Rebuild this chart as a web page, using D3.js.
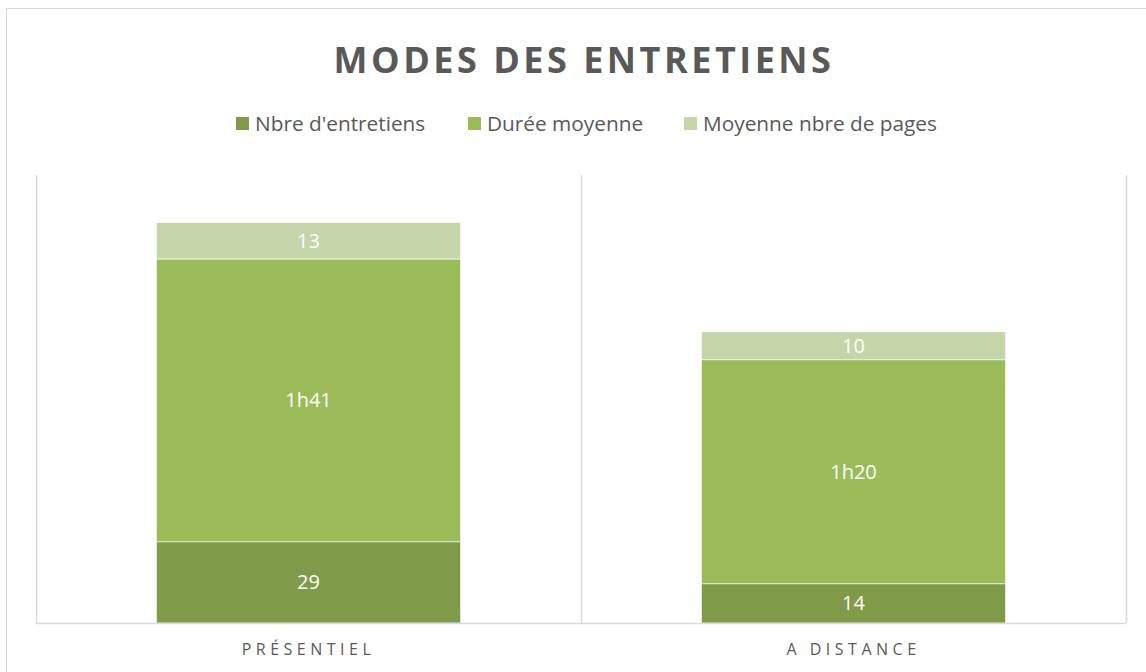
<!DOCTYPE html>
<html>
<head>
<meta charset="utf-8">
<script src="https://cdn.jsdelivr.net/npm/d3@7"></script>
<style>
  body { margin: 0; background: #fff; }
  text { font-family: "Open Sans", "DejaVu Sans", sans-serif; }
</style>
</head>
<body>
<div class="chart"></div>
<script>
var categories = ["PRÉSENTIEL", "A DISTANCE"];
var series = ["Nbre d'entretiens", "Durée moyenne", "Moyenne nbre de pages"];
var nbreEntretiens = [29, 14];
var dureeMoyenne = [101, 80]; // minutes
var pagesMoyenne = [13, 10];
var colors = ["#7f9a48", "#9bbb59", "#c4d5aa"];

var width = 1146, height = 672;
var margin = { top: 175, right: 20, bottom: 49, left: 36 };

function fmtMinutes(m) {
    var mm = m % 60;
    return Math.floor(m / 60) + "h" + (mm < 10 ? "0" : "") + mm;
}

var rows = categories.map(function(c, i) {
    return { cat: c, s0: nbreEntretiens[i], s1: dureeMoyenne[i], s2: pagesMoyenne[i] };
});
var stack = d3.stack().keys(["s0", "s1", "s2"])(rows);

var svg = d3.select(".chart").append("svg")
    .attr("width", width)
    .attr("height", height);

svg.append("rect")
    .attr("x", 6.5).attr("y", 8.5)
    .attr("width", 1200).attr("height", 700)
    .attr("fill", "#fff")
    .attr("stroke", "#d9d9d9");

var x = d3.scaleBand()
    .domain(categories)
    .range([margin.left, 1126])
    .paddingInner(0)
    .paddingOuter(0);

var y = d3.scaleLinear()
    .domain([0, 160])
    .range([height - margin.bottom, margin.top]);

var barW = x.bandwidth() * 0.558;

// vertical separators
var seps = categories.map(function(c) { return x(c); }).concat([x.range()[1]]);
svg.selectAll(".sep")
    .data(seps)
    .enter().append("line")
    .attr("class", "sep")
    .attr("x1", function(d) { return Math.round(d) + 0.5; })
    .attr("x2", function(d) { return Math.round(d) + 0.5; })
    .attr("y1", y(160))
    .attr("y2", y(0))
    .attr("stroke", "#d9d9d9")
    .attr("stroke-width", 1.5);

var layers = svg.selectAll(".layer")
    .data(stack)
    .enter().append("g")
    .attr("class", "layer")
    .attr("fill", function(d, i) { return colors[i]; });

layers.selectAll("rect")
    .data(function(d) { return d; })
    .enter().append("rect")
    .attr("x", function(d) { return x(d.data.cat) + (x.bandwidth() - barW) / 2; })
    .attr("y", function(d) { return y(d[1]); })
    .attr("width", barW)
    .attr("height", function(d) { return y(d[0]) - y(d[1]); })
    .attr("stroke", "#fff")
    .attr("stroke-width", 0.6);

layers.selectAll("text")
    .data(function(d) { return d.map(function(p) { p.key = d.key; return p; }); })
    .enter().append("text")
    .attr("x", function(d) { return x(d.data.cat) + x.bandwidth() / 2; })
    .attr("y", function(d) { return (y(d[0]) + y(d[1])) / 2; })
    .attr("dy", "0.35em")
    .attr("text-anchor", "middle")
    .attr("fill", "#fff")
    .style("font-size", "20px")
    .text(function(d) { return d.key === "s1" ? fmtMinutes(d.data.s1) : d.data[d.key]; });

// baseline
svg.append("line")
    .attr("x1", x.range()[0]).attr("x2", x.range()[1])
    .attr("y1", y(0) + 0.5).attr("y2", y(0) + 0.5)
    .attr("stroke", "#d9d9d9")
    .attr("stroke-width", 1.5);

var xAxis = d3.axisBottom(x).tickSize(0).tickPadding(21);
var gx = svg.append("g")
    .attr("transform", "translate(0," + y(0) + ")")
    .call(xAxis);
gx.select(".domain").remove();
gx.selectAll("text")
    .attr("fill", "#595959")
    .style("font-size", "16px")
    .style("letter-spacing", "4.5px")
    .style("font-family", "\"Open Sans\", sans-serif");

svg.append("text")
    .attr("x", 584)
    .attr("y", 73)
    .attr("text-anchor", "middle")
    .attr("fill", "#595959")
    .style("font-size", "36px")
    .style("font-weight", "bold")
    .style("letter-spacing", "3.5px")
    .text("MODES DES ENTRETIENS");

// legend
var legendX = [236, 468, 684];
var legend = svg.selectAll(".legend")
    .data(series)
    .enter().append("g")
    .attr("class", "legend")
    .attr("transform", function(d, i) { return "translate(" + legendX[i] + ",117)"; });
legend.append("rect")
    .attr("width", 13).attr("height", 13)
    .attr("fill", function(d, i) { return colors[i]; });
legend.append("text")
    .attr("x", 19)
    .attr("y", 6.5)
    .attr("dy", "0.35em")
    .attr("fill", "#595959")
    .style("font-size", "20.8px")
    .text(function(d) { return d; });
</script>
</body>
</html>
